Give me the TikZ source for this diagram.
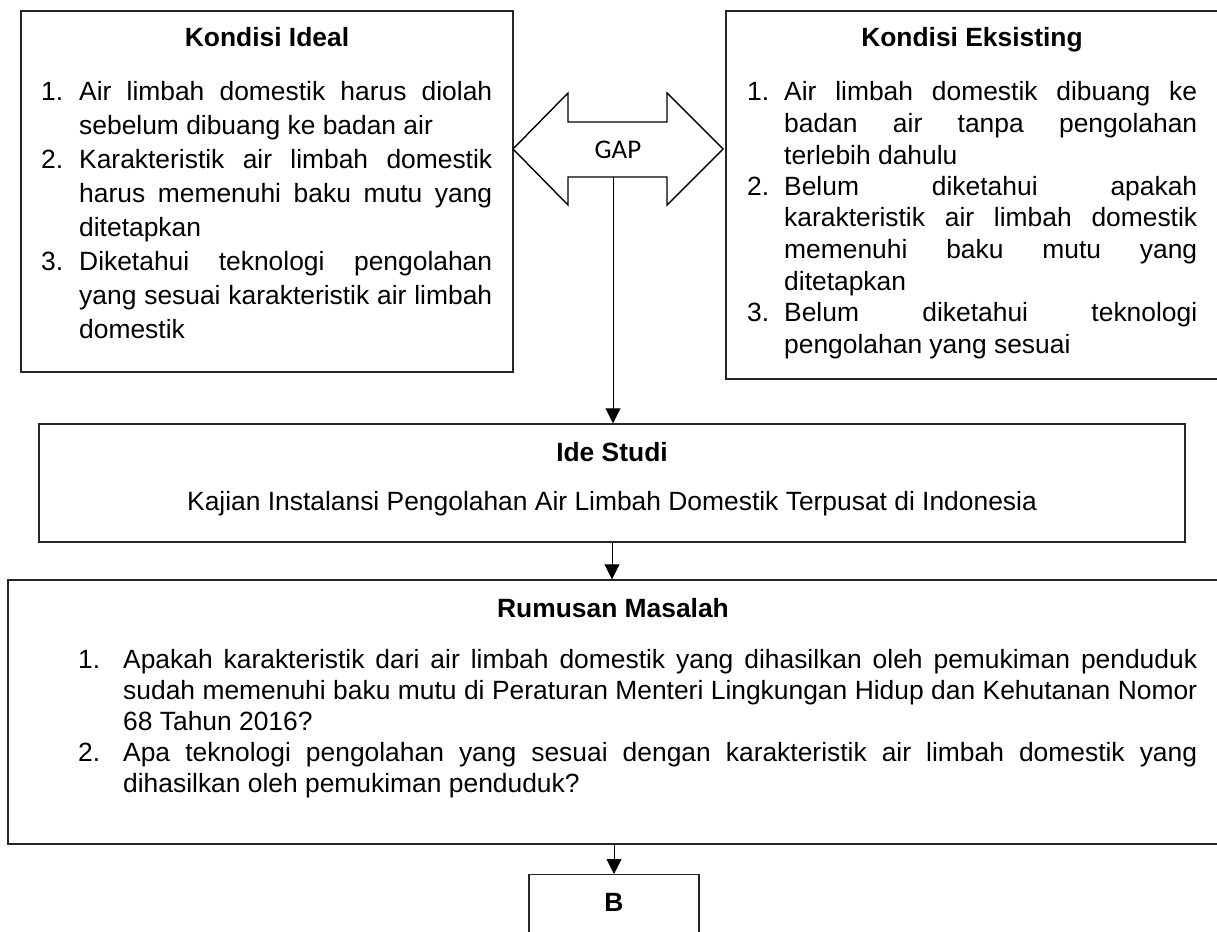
\documentclass[tikz,border=0pt]{standalone}
\usepackage{fontspec}
\setmainfont{Liberation Sans}
\newfontfamily\gapfont{Carlito}
\usetikzlibrary{arrows.meta}
\tikzset{
  box/.style={draw=black!85, line width=1.4pt, rectangle, inner sep=0pt},
  conn/.style={line width=0.9pt, -{Triangle[width=15pt,length=15pt]}},
  txt/.style={inner sep=0pt, anchor=base west, font=\fontsize{26.4}{34}\selectfont},
  ttl/.style={inner sep=0pt, anchor=base, font=\fontsize{26.4}{30}\selectfont\bfseries},
  plain/.style={inner sep=0pt, anchor=base, font=\fontsize{26.4}{30}\selectfont},
}
\newcommand{\itemline}[2]{\hangindent=#1\hangafter=1\noindent\makebox[#1][l]{#2}}
\begin{document}
\begin{tikzpicture}[x=1pt,y=-1pt]
\useasboundingbox (0,0) rectangle (1217,931);
% boxes
\node[box, minimum width=492, minimum height=361] (ideal) at (267,191.5) {};
\node[box, minimum width=492, minimum height=368] (eks) at (972,195) {};
\node[box, minimum width=1146, minimum height=118] (ide) at (612,483) {};
\node[box, minimum width=1210, minimum height=264] (rum) at (613,712) {};
\node[box, anchor=north, minimum width=170, minimum height=70, font=\fontsize{26.4}{30}\selectfont\bfseries] (b) at (614,874) {\raisebox{14pt}{B}};
% GAP double arrow
\draw[line width=1.4pt, draw=black, line join=miter] (513,149) -- (568,93) -- (568,122) -- (667,122) -- (667,93) -- (723,149) -- (667,205) -- (667,177) -- (568,177) -- (568,205) -- cycle;
\node[inner sep=0pt, font=\gapfont\fontsize{27}{30}\selectfont] (gap) at (618,150) {GAP};
\coordinate (gapb) at (613,177);
% titles
\node[ttl] (idealt) at (267,46.5) {Kondisi Ideal};
\node[ttl] (ekst) at (972,46.5) {Kondisi Eksisting};
\node[ttl] (idet) at (612,461) {Ide Studi};
\node[plain] (idek) at (612,510.5) {Kajian Instalansi Pengolahan Air Limbah Domestik Terpusat di Indonesia};
\node[ttl] (rumt) at (613,617) {Rumusan Masalah};
% left list
\node[txt] (idealtx) at (41,101) {\parbox[t]{451pt}{\baselineskip=33.9pt\hbadness=10000\tolerance=10000
\itemline{38pt}{1.}Air limbah domestik harus diolah\linebreak sebelum dibuang ke badan air\par
\itemline{38pt}{2.}Karakteristik air limbah domestik\linebreak harus memenuhi baku mutu yang\linebreak ditetapkan\par
\itemline{38pt}{3.}Diketahui teknologi pengolahan\linebreak yang sesuai karakteristik air limbah\linebreak domestik\par}};
% right list
\node[txt] (ekstx) at (747,101) {\parbox[t]{450pt}{\baselineskip=31.5pt\hbadness=10000\tolerance=10000
\itemline{37pt}{1.}Air limbah domestik dibuang ke\linebreak badan air tanpa pengolahan\linebreak terlebih dahulu\par
\itemline{37pt}{2.}Belum diketahui apakah\linebreak karakteristik air limbah domestik\linebreak memenuhi baku mutu yang\linebreak ditetapkan\par
\itemline{37pt}{3.}Belum diketahui teknologi\linebreak pengolahan yang sesuai\par}};
% rumusan list
\node[txt] (rumtx) at (78,668) {\parbox[t]{1119pt}{\baselineskip=31pt\hbadness=10000\tolerance=10000
\itemline{45pt}{1.}Apakah karakteristik dari air limbah domestik yang dihasilkan oleh pemukiman penduduk\linebreak sudah memenuhi baku mutu di Peraturan Menteri Lingkungan Hidup dan Kehutanan Nomor\linebreak 68 Tahun 2016?\par
\itemline{45pt}{2.}Apa teknologi pengolahan yang sesuai dengan karakteristik air limbah domestik yang\linebreak dihasilkan oleh pemukiman penduduk?\par}};
% connectors
\draw[conn] (gapb) -- (gapb |- ide.north);
\draw[conn] (ide.south) -- (ide.south |- rum.north);
\draw[conn] (rum.south -| b.north) -- (b.north);
\end{tikzpicture}
\end{document}
